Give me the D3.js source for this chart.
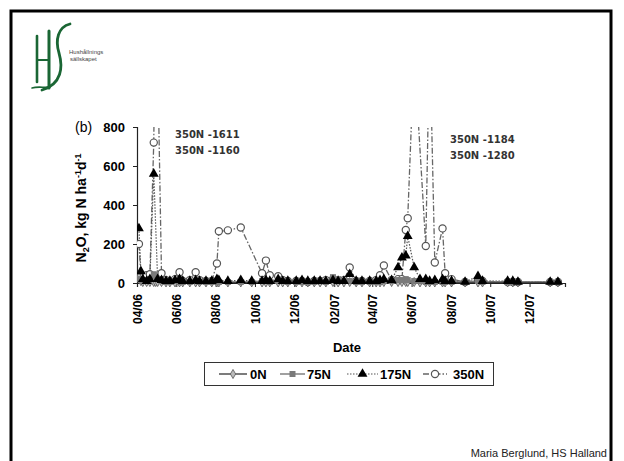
<!DOCTYPE html>
<html>
<head>
<meta charset="utf-8">
<script src="https://cdn.jsdelivr.net/npm/d3@7"></script>
<style>
  body { margin: 0; background: #fff; }
</style>
</head>
<body>
<div id="chart"></div>
<script>
// sampling dates (one per measurement)
const dates = [
  "2006-04-04","2006-04-07","2006-04-10","2006-04-16","2006-04-21","2006-04-27","2006-04-30","2006-05-03",
  "2006-05-09","2006-05-16","2006-05-22","2006-05-30","2006-06-06","2006-06-11","2006-06-22","2006-07-01",
  "2006-07-07","2006-07-17","2006-07-26","2006-08-03","2006-08-06","2006-08-20","2006-09-09","2006-09-26",
  "2006-10-12","2006-10-18","2006-10-24","2006-11-06","2006-11-13","2006-11-21","2006-12-04","2006-12-13",
  "2006-12-22","2007-01-01","2007-01-10","2007-01-19","2007-01-30","2007-02-07","2007-02-16","2007-02-25",
  "2007-03-07","2007-03-16","2007-03-28","2007-04-07","2007-04-13","2007-04-19","2007-05-01","2007-05-11",
  "2007-05-17","2007-05-23","2007-05-26","2007-06-05","2007-06-14","2007-06-23","2007-06-29","2007-07-07",
  "2007-07-19","2007-07-23","2007-08-02","2007-08-23","2007-09-12","2007-09-19","2007-10-28","2007-11-05",
  "2007-11-13","2008-01-02","2008-01-14"
];

// N2O flux, kg N ha-1 d-1
const n0 = [30,10,5,5,5,5,5,5, 5,3,3,3,3,3,3,3, 3,3,3,3,3,3,3,3, 3,3,3,3,3,3,3,3,
  3,3,3,3,5,3,3,5, 3,3,3,3,3,5,5,5, 5,5,5,5,3,3,3,3, 3,3,3,3,3,3,3,3, 3,3,3];
const n75 = [20,15,10,15,20,45,40,20, 10,5,5,10,5,5,5,10, 5,5,5,10,5,5,5,5, 10,10,5,10,10,5,5,5,
  5,5,10,5,30,20,10,10, 5,5,5,5,5,10,10,15, 15,20,15,10,10,5,5,5, 5,5,5,5,10,5,5,5, 5,5,5];
const n175 = [280,60,20,10,20,560,null,20, 15,10,10,15,20,10,10,15, 10,10,10,20,15,10,15,10,
  10,15,10,20,10,10,10,15, 10,10,10,10,15,10,10,45, 10,10,10,10,15,20,15,80,
  130,140,240,80,20,20,10,15, 20,10,10,5,35,10,10,10, 5,5,5];
const n350 = [200,45,30,40,45,720,1611,1160, 50,15,10,20,55,10,15,55, 15,10,10,100,265,270,285,null,
  50,115,40,35,15,10,10,10, 5,10,10,15,20,10,15,80, 10,10,10,15,40,90,15,20,
  20,272,332,1184,null,190,1280,105, 280,50,20,5,15,10,5,5, 5,5,5];

const seriesNames = ["0N", "75N", "175N", "350N"];
const yTicks = [0, 200, 400, 600, 800];
const xTickDates = ["2006-04-01","2006-06-01","2006-08-01","2006-10-01","2006-12-01","2007-02-01",
  "2007-04-01","2007-06-01","2007-08-01","2007-10-01","2007-12-01"];
const xTickLabels = ["04/06","06/06","08/06","10/06","12/06","02/07","04/07","06/07","08/07","10/07","12/07"];
const offScaleNotes1 = ["350N -1611", "350N -1160"];
const offScaleNotes2 = ["350N -1184", "350N -1280"];

const W = 624, H = 461;
const parse = d3.timeParse("%Y-%m-%d");
const plotLeft = 137, plotRight = 565, plotTop = 127, plotBottom = 283;

const svg = d3.select("#chart").append("svg")
  .attr("width", W).attr("height", H)
  .style("font-family", "'Liberation Sans', Arial, sans-serif");

// slide frame
svg.append("rect")
  .attr("x", 11).attr("y", 11).attr("width", 600).attr("height", 470)
  .attr("fill", "none").attr("stroke", "#000").attr("stroke-width", 3);

// logo
const logo = svg.append("g").attr("stroke", "#1a6634").attr("fill", "none").attr("stroke-linecap", "round");
logo.append("path").attr("d", "M37,36 L37,82").attr("stroke-width", 2.6);
logo.append("path").attr("d", "M49,31 L49,88").attr("stroke-width", 3);
logo.append("path").attr("d", "M37,60 L49,60").attr("stroke-width", 1.8);
logo.append("path").attr("d", "M70,24 C58,27 55,40 59,53 C63,67 62,84 42,90").attr("stroke-width", 2.8);
logo.append("path").attr("d", "M32,88 C38,86 44,88 50,87").attr("stroke-width", 1.6);
svg.append("text").attr("x", 69).attr("y", 54).attr("font-size", 6).attr("fill", "#444").text("Hushållnings");
svg.append("text").attr("x", 70).attr("y", 61).attr("font-size", 6).attr("fill", "#444").text("sällskapet");

const x = d3.scaleTime()
  .domain([parse("2006-04-01"), parse("2008-01-25")])
  .range([plotLeft, plotRight]);
const y = d3.scaleLinear().domain([0, 800]).range([plotBottom, plotTop]);

// axes
const yAxis = svg.append("g").attr("transform", `translate(${plotLeft},0)`)
  .call(d3.axisLeft(y).tickValues(yTicks).tickSize(4).tickFormat(d3.format("d")));
yAxis.select(".domain").attr("stroke", "#222").attr("stroke-width", 1.2);
yAxis.selectAll(".tick line").attr("stroke", "#222");
yAxis.selectAll(".tick text").attr("x", -12)
  .style("font-size", "13px").style("font-weight", "bold").style("font-family", "'Liberation Sans', Arial, sans-serif");

const xAxis = svg.append("g").attr("transform", `translate(0,${plotBottom})`)
  .call(d3.axisBottom(x).tickValues(xTickDates.map(parse)).tickSize(4)
    .tickFormat((d, i) => xTickLabels[i]));
xAxis.select(".domain").attr("stroke", "#222").attr("stroke-width", 1.2);
xAxis.selectAll(".tick line").attr("stroke", "#222");
xAxis.selectAll(".tick text")
  .attr("transform", "rotate(-90)")
  .attr("x", -11).attr("y", 0).attr("dy", "0.35em")
  .attr("text-anchor", "end")
  .style("font-size", "12px").style("font-weight", "bold").style("font-family", "'Liberation Sans', Arial, sans-serif");

// clip so off-scale peaks stop at the top
svg.append("clipPath").attr("id", "plotclip")
  .append("rect").attr("x", plotLeft).attr("y", plotTop)
  .attr("width", plotRight - plotLeft + 10).attr("height", plotBottom - plotTop + 10);

const styles = {
  "0N":   {data: n0,   stroke: "#444", dash: null,      width: 1.4},
  "75N":  {data: n75,  stroke: "#888", dash: null,      width: 1.6},
  "175N": {data: n175, stroke: "#555", dash: "1.5,1.5", width: 1.2},
  "350N": {data: n350, stroke: "#666", dash: "6,2,1.5,2", width: 1.3}
};

const line = d3.line().x(d => x(d.date)).y(d => y(d.v));

function pointsOf(arr) {
  return arr.map((v, i) => ({date: parse(dates[i]), v: v})).filter(d => d.v !== null);
}

function drawMarker(g, name, cx, cy) {
  if (name === "0N") {
    g.append("path").attr("d", d3.symbol(d3.symbolDiamond, 24)())
      .attr("transform", `translate(${cx},${cy})`).attr("fill", "#bbb").attr("stroke", "#555").attr("stroke-width", 0.8);
  } else if (name === "75N") {
    g.append("path").attr("d", d3.symbol(d3.symbolSquare, 36)())
      .attr("transform", `translate(${cx},${cy})`).attr("fill", "#7a7a7a");
  } else if (name === "175N") {
    g.append("path").attr("d", d3.symbol(d3.symbolTriangle, 42)())
      .attr("transform", `translate(${cx},${cy})`).attr("fill", "#000");
  } else {
    g.append("circle").attr("cx", cx).attr("cy", cy).attr("r", 3.6)
      .attr("fill", "#fff").attr("stroke", "#555").attr("stroke-width", 1.2);
  }
}

const plot = svg.append("g").attr("clip-path", "url(#plotclip)");
["350N", "175N", "75N", "0N"].forEach(name => {
  const s = styles[name];
  const pts = pointsOf(s.data);
  plot.append("path").datum(pts)
    .attr("d", line).attr("fill", "none")
    .attr("stroke", s.stroke).attr("stroke-width", s.width)
    .attr("stroke-dasharray", s.dash);
});
["350N", "0N", "75N", "175N"].forEach(name => {
  const g = plot.append("g");
  pointsOf(styles[name].data).filter(d => d.v <= 800).forEach(d => drawMarker(g, name, x(d.date), y(d.v)));
});

// labels
svg.append("text").attr("x", 75).attr("y", 132).attr("font-size", 14).text("(b)");

const yt = svg.append("text")
  .attr("transform", "translate(86,208) rotate(-90)")
  .attr("text-anchor", "middle").attr("font-size", 14).attr("font-weight", "bold");
yt.append("tspan").text("N");
yt.append("tspan").attr("font-size", 9).attr("dy", 3).text("2");
yt.append("tspan").attr("dy", -3).text("O, kg N ha");
yt.append("tspan").attr("font-size", 9).attr("dy", -5).text("-1");
yt.append("tspan").attr("dy", 5).text("d");
yt.append("tspan").attr("font-size", 9).attr("dy", -5).text("-1");

svg.append("text").attr("x", 347).attr("y", 352).attr("text-anchor", "middle")
  .attr("font-size", 13).attr("font-weight", "bold").text("Date");

const noteFont = "'DejaVu Sans', Verdana, sans-serif";
offScaleNotes1.forEach((t, i) => {
  svg.append("text").attr("x", 175).attr("y", 138 + i * 16).attr("font-size", 10)
    .attr("font-weight", "bold").attr("fill", "#333").style("font-family", noteFont).text(t);
});
offScaleNotes2.forEach((t, i) => {
  svg.append("text").attr("x", 450).attr("y", 143 + i * 16).attr("font-size", 10)
    .attr("font-weight", "bold").attr("fill", "#333").style("font-family", noteFont).text(t);
});

// legend
svg.append("rect").attr("x", 204.5).attr("y", 362.5).attr("width", 289).attr("height", 23)
  .attr("fill", "#fff").attr("stroke", "#333").attr("stroke-width", 1);
const legendPos = [{x1: 219, x2: 247, tx: 250}, {x1: 280, x2: 305, tx: 307},
  {x1: 347, x2: 378, tx: 380}, {x1: 423, x2: 447, tx: 453}];
seriesNames.forEach((name, i) => {
  const p = legendPos[i], s = styles[name], ly = 374;
  svg.append("line").attr("x1", p.x1).attr("x2", p.x2).attr("y1", ly).attr("y2", ly)
    .attr("stroke", s.stroke).attr("stroke-width", s.width).attr("stroke-dasharray", s.dash);
  drawMarker(svg, name, (p.x1 + p.x2) / 2, ly);
  svg.append("text").attr("x", p.tx).attr("y", ly + 4.5).attr("font-size", 13)
    .attr("font-weight", "bold").text(name);
});

svg.append("text").attr("x", 607).attr("y", 457).attr("text-anchor", "end")
  .attr("font-size", 11).attr("fill", "#222").text("Maria Berglund, HS Halland");
</script>
</body>
</html>
